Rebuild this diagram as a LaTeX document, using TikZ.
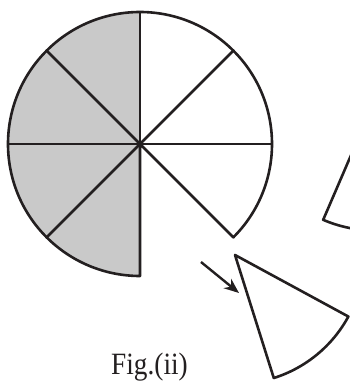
\documentclass[tikz,border=0pt]{standalone}
\usepackage{fontspec}
\setmainfont{Liberation Serif}
\usetikzlibrary{arrows.meta}
\definecolor{ink}{RGB}{35,31,32}
\definecolor{sgray}{RGB}{201,201,201}
\begin{document}
\begin{tikzpicture}[x=1pt,y=1pt,
  outl/.style={draw=ink,line width=2.6pt,line join=round},
  arr/.style={draw=ink,line width=2.4pt,-{Stealth[length=15pt,width=12pt]}}]
\useasboundingbox (0,0) rectangle (350,381);
\clip (0,0) rectangle (350,381);
\coordinate (C) at (140,237);
% shaded half
\fill[sgray] (C) -- ++(90:132pt) arc[start angle=90,end angle=270,radius=132pt] -- cycle;
% outline of circle with missing sector
\draw[outl] (C) -- ++(-45:132pt) arc[start angle=-45,end angle=270,radius=132pt] -- cycle;
\foreach \a in {0,45,90,135,180,225} \draw[outl] (C) -- ++(\a:132pt);
% detached sector
\coordinate (A) at (235,126);
\draw[outl] (A) -- ++(-72.5:129pt) arc[start angle=-72.5,end angle=-28.5,radius=129pt] -- cycle;
% partial sector on the right edge
\coordinate (P) at (375,281.5);
\draw[outl] (P) -- ++(-113.3:131pt) arc[start angle=-113.3,end angle=-70,radius=131pt];
% arrow
\coordinate (s) at (201,119);
\coordinate (e) at (239,88);
\draw[arr] (s) -- (e);
\node[anchor=base,inner sep=0pt,text=ink,xscale=0.88,font=\fontsize{31}{34}\selectfont] (lab) at (149.5,6) {Fig.(ii)};
\end{tikzpicture}
\end{document}
